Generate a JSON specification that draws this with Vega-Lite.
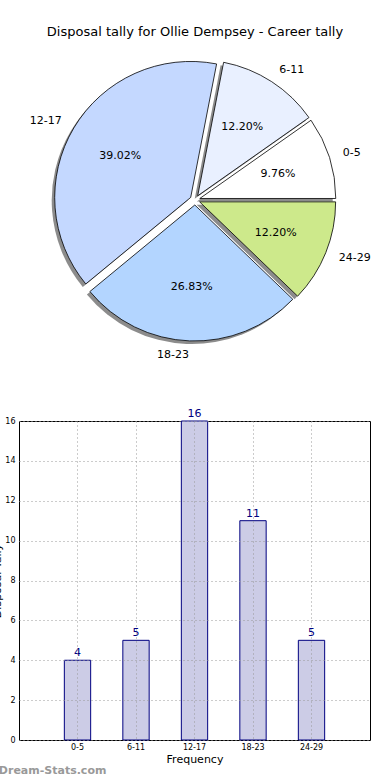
{
  "$schema": "https://vega.github.io/schema/vega-lite/v6.json",
  "autosize": {"type": "none"},
  "bounds": "flush",
  "padding": {"top": 40, "left": 19, "right": 371, "bottom": 740},
  "spacing": 61,
  "config": {"font": "DejaVu Sans", "view": {"stroke": null}},
  "datasets": {
    "t": [
      {"bin": "0-5", "lo": 0, "tally": 4, "pct": "9.76%"},
      {"bin": "6-11", "lo": 6, "tally": 5, "pct": "12.20%"},
      {"bin": "12-17", "lo": 12, "tally": 16, "pct": "39.02%"},
      {"bin": "18-23", "lo": 18, "tally": 11, "pct": "26.83%"},
      {"bin": "24-29", "lo": 24, "tally": 5, "pct": "12.20%"}
    ]
  },
  "vconcat": [
    {
      "width": 352,
      "height": 320,
      "title": {"text": "Disposal tally for Ollie Dempsey - Career tally", "fontSize": 13, "fontWeight": "normal", "font": "DejaVu Sans", "color": "#000000", "offset": 1},
      "view": {"stroke": null},
      "data": {"name": "t"},
      "encoding": {
        "theta": {"field": "tally", "type": "quantitative", "stack": true, "scale": {"range": [1.5708, -4.7124]}},
        "order": {"field": "lo", "type": "quantitative"}
      },
      "layer": [
        {
          "mark": {"type": "arc", "outerRadius": 136, "fill": "#8c8c8c", "stroke": null,
            "xOffset": {"expr": "5*cos((datum.tally_start+datum.tally_end)*PI/41)-3"},
            "yOffset": {"expr": "-5*sin((datum.tally_start+datum.tally_end)*PI/41)+3"}}
        },
        {
          "mark": {"type": "arc", "outerRadius": 136, "stroke": "#000000", "strokeWidth": 0.8,
            "xOffset": {"expr": "5*cos((datum.tally_start+datum.tally_end)*PI/41)"},
            "yOffset": {"expr": "-5*sin((datum.tally_start+datum.tally_end)*PI/41)"}},
          "encoding": {
            "color": {"field": "bin", "type": "nominal", "legend": null,
              "scale": {"domain": ["0-5", "6-11", "12-17", "18-23", "24-29"], "range": ["#ffffff", "#e9f0ff", "#c4d8ff", "#b3d5ff", "#cde98b"]}}
          }
        },
        {
          "mark": {"type": "text", "radius": 150, "fontSize": 11, "baseline": "middle", "color": "#000000",
            "align": {"expr": "cos((datum.tally_start+datum.tally_end)*PI/41) >= 0 ? 'left' : 'right'"},
            "xOffset": {"expr": "5*cos((datum.tally_start+datum.tally_end)*PI/41)"},
            "yOffset": {"expr": "-5*sin((datum.tally_start+datum.tally_end)*PI/41)"}},
          "encoding": {"text": {"field": "bin"}}
        },
        {
          "mark": {"type": "text", "radius": 82, "fontSize": 11, "baseline": "middle", "align": "center", "color": "#000000",
            "xOffset": {"expr": "5*cos((datum.tally_start+datum.tally_end)*PI/41)"},
            "yOffset": {"expr": "-5*sin((datum.tally_start+datum.tally_end)*PI/41)"}},
          "encoding": {"text": {"field": "pct"}}
        }
      ]
    },
    {
      "width": 351,
      "height": 319,
      "title": {"text": "Dream-Stats.com", "orient": "bottom", "anchor": "start", "dx": 7, "offset": 1, "color": "#999999", "fontSize": 11, "fontWeight": "bold", "font": "DejaVu Sans"},
      "view": {"stroke": "#000000", "strokeWidth": 1},
      "data": {"name": "t"},
      "encoding": {
        "x": {"field": "bin", "type": "ordinal", "sort": ["0-5", "6-11", "12-17", "18-23", "24-29"],
          "scale": {"paddingInner": 0.55, "paddingOuter": 0.775},
          "axis": {"title": "Frequency", "titleFontSize": 11, "titleFontWeight": "normal", "titlePadding": 2, "labelAngle": 0, "labelFontSize": 8, "labelColor": "#000000", "labelPadding": 3,
            "grid": true, "bandPosition": 0.5, "gridDash": [1, 3], "gridColor": "#999999", "gridWidth": 1, "ticks": false, "domain": false, "zindex": 1}},
        "y": {"field": "tally", "type": "quantitative", "scale": {"domain": [0, 16], "nice": false},
          "axis": {"title": "Disposal Tally", "titleFontSize": 11, "titleFontWeight": "normal", "titlePadding": 2, "values": [0, 2, 4, 6, 8, 10, 12, 14, 16], "labelFontSize": 8, "labelColor": "#000000", "labelPadding": 4,
            "grid": true, "gridDash": [1, 3], "gridColor": "#999999", "gridWidth": 1, "ticks": false, "domain": false, "zindex": 1}}
      },
      "layer": [
        {"mark": {"type": "bar", "fill": "#cccce6", "stroke": "#000080", "strokeWidth": 1}},
        {"mark": {"type": "text", "baseline": "bottom", "dy": -2, "fontSize": 11, "color": "#000080"},
          "encoding": {"text": {"field": "tally"}}}
      ]
    }
  ]
}
